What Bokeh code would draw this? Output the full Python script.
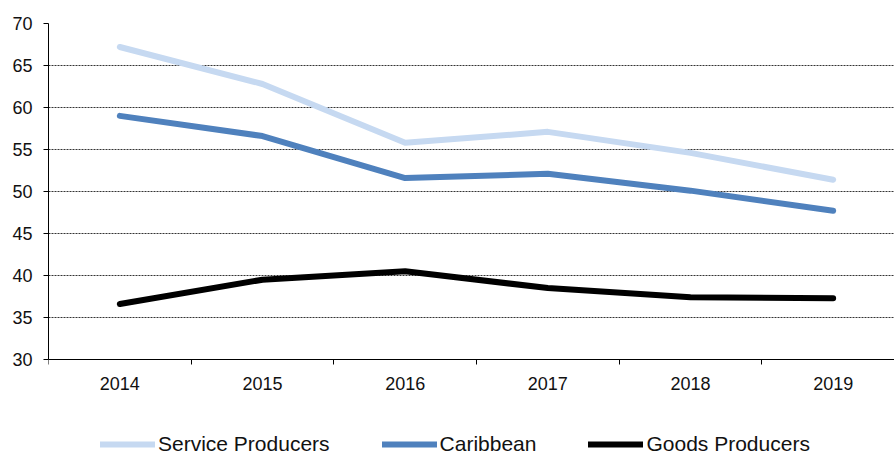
from bokeh.plotting import figure
from bokeh.models import FixedTicker, Legend, LegendItem, Range1d
from bokeh.embed import file_html
from bokeh.resources import INLINE

years = [2014, 2015, 2016, 2017, 2018, 2019]
service = [67.2, 62.8, 55.8, 57.1, 54.6, 51.4]
caribbean = [59.0, 56.6, 51.6, 52.1, 50.1, 47.7]
goods = [36.6, 39.5, 40.5, 38.5, 37.4, 37.3]
y_ticks = [30, 35, 40, 45, 50, 55, 60, 65, 70]

FONT = "Liberation Sans"

p = figure(width=894, height=457,
           output_backend="svg", toolbar_location=None,
           x_range=Range1d(2013.5, 2019.43), y_range=Range1d(18.33, 70),
           min_border_left=48, min_border_top=23, min_border_right=0,
           min_border_bottom=0)
p.outline_line_color = None
p.background_fill_color = "white"

r1 = p.line(years, service, line_color="#C6D9F1", line_width=6, line_cap="round", line_join="round")
r2 = p.line(years, caribbean, line_color="#4F81BD", line_width=6, line_cap="round", line_join="round")
r3 = p.line(years, goods, line_color="#000000", line_width=6, line_cap="round", line_join="round")

# axes
p.xaxis.fixed_location = 30
p.xaxis.ticker = FixedTicker(ticks=years, minor_ticks=[y - 0.5 for y in years] + [2019.5])
p.xaxis.major_tick_out = 0
p.xaxis.major_tick_in = 0
p.xaxis.minor_tick_out = 5
p.xaxis.minor_tick_in = 0
p.xaxis.minor_tick_line_color = "black"
p.xaxis.major_label_standoff = 13
p.xaxis.axis_line_color = "black"

p.yaxis.ticker = FixedTicker(ticks=y_ticks)
p.yaxis.bounds = (30, 70)
p.yaxis.major_tick_out = 5
p.yaxis.major_tick_in = 0
p.yaxis.minor_tick_line_color = None
p.yaxis.major_label_standoff = 11
p.yaxis.axis_line_color = "black"

for ax in (p.xaxis, p.yaxis):
    ax.major_label_text_font = FONT
    ax.major_label_text_font_size = "18px"
    ax.major_label_text_color = "#111111"
    ax.major_tick_line_color = "black"

p.xgrid.grid_line_color = None
p.ygrid.grid_line_color = "black"
p.ygrid.grid_line_dash = "2 1"
p.ygrid.grid_line_width = 1
p.ygrid.grid_line_alpha = 0.8

legend = Legend(items=[LegendItem(label="Service Producers", renderers=[r1]),
                       LegendItem(label="Caribbean", renderers=[r2]),
                       LegendItem(label="Goods Producers", renderers=[r3])],
                orientation="horizontal", location=(52, 1),
                label_text_font=FONT, label_text_font_size="21px",
                label_text_color="#111111", label_height=18,
                glyph_width=55, glyph_height=18, label_standoff=3, spacing=52,
                border_line_color=None, background_fill_alpha=0,
                padding=0, margin=0)
p.add_layout(legend, "center")

open("out.html", "w").write(file_html(p, INLINE))
